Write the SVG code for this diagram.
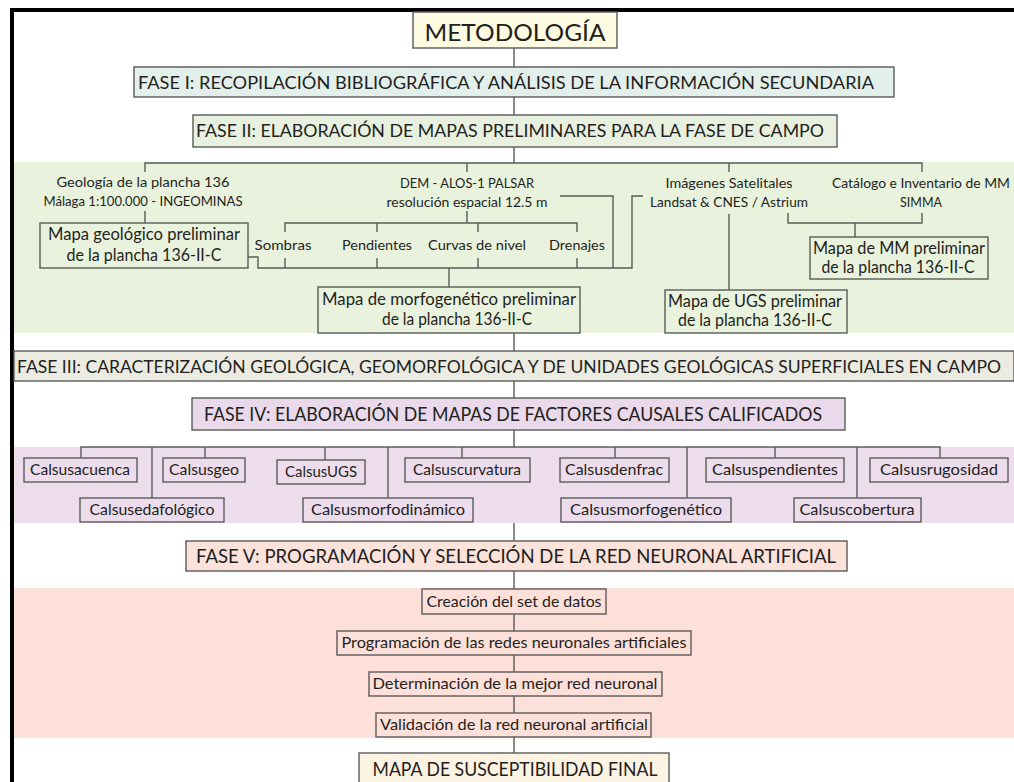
<svg xmlns="http://www.w3.org/2000/svg" width="1014" height="782" viewBox="0 0 1014 782">
<style>
text{font-family:Lato,"Open Sans","Liberation Sans",sans-serif;fill:#231f20;text-anchor:middle}
.ln{stroke:#5a5a5a;stroke-width:1.4;fill:none}
.bx{stroke:#5a5a5a;stroke-width:1.4}
.t13{font-size:13.5px}
.t15{font-size:15px}
.t16{font-size:16.5px}
.t18{font-size:17.5px}
.t19{font-size:19px}
.l{text-anchor:start}
</style>
<rect width="1014" height="782" fill="#ffffff"/>
<g id="bands">
<rect x="13" y="162" width="1001" height="171" fill="#e9f2dd"/>
<rect x="13" y="447" width="1001" height="76" fill="#ecdcec"/>
<rect x="13" y="588" width="1001" height="150" fill="#fde0da"/>
</g>
<g id="connectors" class="ln">
<path d="M514 48V67M514 97V115M514 147V163"/>
<path d="M145 172V163H922V172M467 163V172M729 163V172"/>
<path d="M145 211V223M467 211V223"/>
<path d="M285 232V223H577V232M377 223V232M478 223V232"/>
<path d="M285 258V268M377 258V268M478 258V268M577 258V268"/>
<path d="M248 257H258V268H632V196H643"/>
<path d="M560 196H613V268"/>
<path d="M449 268V287"/>
<path d="M729 214V290"/>
<path d="M788 213V223H922V213M855 223V237"/>
<path d="M514 333V351M514 381V398M514 430V447"/>
<path d="M81 458V447H940V458M205 447V458M325 447V460M462 447V458M615 447V458M775 447V458"/>
<path d="M152 447V498M388 447V498M687 447V498M857 447V498"/>
<path d="M514 523V541M514 571V589M514 614V631M514 655V672M514 696V713M514 737V753"/>
</g>
<g id="frame" stroke="#000" stroke-width="4" fill="none">
<path d="M12 782V10H1014"/>
</g>
<g id="metodologia">
<rect class="bx" x="413" y="12" width="204" height="36" fill="#fdfbe1"/>
<text x="515" y="41" font-size="24" textLength="181" lengthAdjust="spacingAndGlyphs">METODOLOGÍA</text>
</g>
<g id="fase1">
<rect class="bx" x="134" y="67" width="760" height="30" fill="#e3efeb"/>
<text class="t18 l" x="138" y="89" textLength="736" lengthAdjust="spacingAndGlyphs">FASE I: RECOPILACIÓN BIBLIOGRÁFICA Y ANÁLISIS DE LA INFORMACIÓN SECUNDARIA</text>
</g>
<g id="fase2">
<rect class="bx" x="193" y="115" width="644" height="32" fill="#e8f0df"/>
<text class="t18 l" x="196" y="137" textLength="628" lengthAdjust="spacingAndGlyphs">FASE II: ELABORACIÓN DE MAPAS PRELIMINARES PARA LA FASE DE CAMPO</text>
</g>
<g id="geologia-src">
<text class="t13" x="143" y="187" textLength="173" lengthAdjust="spacingAndGlyphs">Geología de la plancha 136</text>
<text class="t13" x="143" y="206" textLength="199" lengthAdjust="spacingAndGlyphs">Málaga 1:100.000 - INGEOMINAS</text>
</g>
<g id="dem-src">
<text class="t13" x="467" y="188" textLength="134" lengthAdjust="spacingAndGlyphs">DEM - ALOS-1 PALSAR</text>
<text class="t13" x="467" y="207" textLength="161" lengthAdjust="spacingAndGlyphs">resolución espacial 12.5 m</text>
</g>
<g id="imagenes-src">
<text class="t13" x="729" y="188" textLength="127" lengthAdjust="spacingAndGlyphs">Imágenes Satelitales</text>
<text class="t13" x="729" y="207" textLength="158" lengthAdjust="spacingAndGlyphs">Landsat &amp; CNES / Astrium</text>
</g>
<g id="catalogo-src">
<text class="t13" x="921" y="188" textLength="178" lengthAdjust="spacingAndGlyphs">Catálogo e Inventario de MM</text>
<text class="t13" x="921" y="207" textLength="42" lengthAdjust="spacingAndGlyphs">SIMMA</text>
</g>
<g id="sombras"><text class="t13" x="283" y="250" textLength="57" lengthAdjust="spacingAndGlyphs">Sombras</text></g>
<g id="pendientes"><text class="t13" x="377" y="250" textLength="70" lengthAdjust="spacingAndGlyphs">Pendientes</text></g>
<g id="curvas"><text class="t13" x="477" y="250" textLength="98" lengthAdjust="spacingAndGlyphs">Curvas de nivel</text></g>
<g id="drenajes"><text class="t13" x="577" y="250" textLength="56" lengthAdjust="spacingAndGlyphs">Drenajes</text></g>
<g id="mapa-geologico">
<rect class="bx" x="40" y="223" width="208" height="45" fill="#e9f2dd"/>
<text class="t16" x="144" y="240" textLength="192" lengthAdjust="spacingAndGlyphs">Mapa geológico preliminar</text>
<text class="t16" x="144" y="261" textLength="155" lengthAdjust="spacingAndGlyphs">de la plancha 136-II-C</text>
</g>
<g id="mapa-morfogenetico">
<rect class="bx" x="318" y="287" width="262" height="46" fill="#e9f2dd"/>
<text class="t16" x="449" y="305" textLength="254" lengthAdjust="spacingAndGlyphs">Mapa de morfogenético preliminar</text>
<text class="t16" x="457" y="325" textLength="150" lengthAdjust="spacingAndGlyphs">de la plancha 136-II-C</text>
</g>
<g id="mapa-ugs">
<rect class="bx" x="665" y="290" width="182" height="43" fill="#e9f2dd"/>
<text class="t16" x="755" y="307" textLength="174" lengthAdjust="spacingAndGlyphs">Mapa de UGS preliminar</text>
<text class="t16" x="755" y="326" textLength="154" lengthAdjust="spacingAndGlyphs">de la plancha 136-II-C</text>
</g>
<g id="mapa-mm">
<rect class="bx" x="810" y="237" width="178" height="42" fill="#e9f2dd"/>
<text class="t16" x="899" y="254" textLength="172" lengthAdjust="spacingAndGlyphs">Mapa de MM preliminar</text>
<text class="t16" x="898" y="273" textLength="153" lengthAdjust="spacingAndGlyphs">de la plancha 136-II-C</text>
</g>
<g id="fase3">
<rect class="bx" x="14" y="351" width="1000" height="30" fill="#ebebe2"/>
<text class="l" x="17" y="373" font-size="17.2" textLength="984" lengthAdjust="spacingAndGlyphs">FASE III: CARACTERIZACIÓN GEOLÓGICA, GEOMORFOLÓGICA Y DE UNIDADES GEOLÓGICAS SUPERFICIALES EN CAMPO</text>
</g>
<g id="fase4">
<rect class="bx" x="192" y="398" width="653" height="32" fill="#e9d9ea"/>
<text class="t19 l" x="204" y="421" textLength="618" lengthAdjust="spacingAndGlyphs">FASE IV: ELABORACIÓN DE MAPAS DE FACTORES CAUSALES CALIFICADOS</text>
</g>
<g id="calsusacuenca"><rect class="bx" x="24" y="458" width="113" height="24" fill="#ecdcec"/><text class="t15" x="80" y="475" textLength="100" lengthAdjust="spacingAndGlyphs">Calsusacuenca</text></g>
<g id="calsusgeo"><rect class="bx" x="163" y="458" width="82" height="24" fill="#ecdcec"/><text class="t15" x="204" y="475" textLength="70" lengthAdjust="spacingAndGlyphs">Calsusgeo</text></g>
<g id="calsusugs"><rect class="bx" x="277" y="460" width="88" height="24" fill="#ecdcec"/><text class="t15" x="321" y="477" textLength="72" lengthAdjust="spacingAndGlyphs">CalsusUGS</text></g>
<g id="calsuscurvatura"><rect class="bx" x="405" y="458" width="125" height="24" fill="#ecdcec"/><text class="t15" x="467" y="475" textLength="108" lengthAdjust="spacingAndGlyphs">Calsuscurvatura</text></g>
<g id="calsusdenfrac"><rect class="bx" x="560" y="458" width="109" height="24" fill="#ecdcec"/><text class="t15" x="614" y="475" textLength="98" lengthAdjust="spacingAndGlyphs">Calsusdenfrac</text></g>
<g id="calsuspendientes"><rect class="bx" x="706" y="458" width="138" height="24" fill="#ecdcec"/><text class="t15" x="775" y="475" textLength="126" lengthAdjust="spacingAndGlyphs">Calsuspendientes</text></g>
<g id="calsusrugosidad"><rect class="bx" x="870" y="458" width="138" height="24" fill="#ecdcec"/><text class="t15" x="939" y="475" textLength="118" lengthAdjust="spacingAndGlyphs">Calsusrugosidad</text></g>
<g id="calsusedafologico"><rect class="bx" x="80" y="498" width="144" height="24" fill="#ecdcec"/><text class="t15" x="152" y="515" textLength="125" lengthAdjust="spacingAndGlyphs">Calsusedafológico</text></g>
<g id="calsusmorfodinamico"><rect class="bx" x="303" y="498" width="170" height="24" fill="#ecdcec"/><text class="t15" x="388" y="515" textLength="154" lengthAdjust="spacingAndGlyphs">Calsusmorfodinámico</text></g>
<g id="calsusmorfogenetico"><rect class="bx" x="561" y="498" width="170" height="24" fill="#ecdcec"/><text class="t15" x="646" y="515" textLength="152" lengthAdjust="spacingAndGlyphs">Calsusmorfogenético</text></g>
<g id="calsuscobertura"><rect class="bx" x="794" y="498" width="127" height="24" fill="#ecdcec"/><text class="t15" x="857" y="515" textLength="115" lengthAdjust="spacingAndGlyphs">Calsuscobertura</text></g>
<g id="fase5">
<rect class="bx" x="186" y="541" width="661" height="30" fill="#fbe2da"/>
<text class="t19 l" x="196" y="563" textLength="640" lengthAdjust="spacingAndGlyphs">FASE V: PROGRAMACIÓN Y SELECCIÓN DE LA RED NEURONAL ARTIFICIAL</text>
</g>
<g id="creacion"><rect class="bx" x="422" y="589" width="184" height="25" fill="#fde0da"/><text class="t15" x="514" y="607" textLength="175" lengthAdjust="spacingAndGlyphs">Creación del set de datos</text></g>
<g id="programacion"><rect class="bx" x="337" y="631" width="354" height="24" fill="#fde0da"/><text class="t15" x="514" y="648" textLength="345" lengthAdjust="spacingAndGlyphs">Programación de las redes neuronales artificiales</text></g>
<g id="determinacion"><rect class="bx" x="369" y="672" width="293" height="24" fill="#fde0da"/><text class="t15" x="515" y="689" textLength="285" lengthAdjust="spacingAndGlyphs">Determinación de la mejor red neuronal</text></g>
<g id="validacion"><rect class="bx" x="376" y="713" width="275" height="24" fill="#fde0da"/><text class="t15" x="514" y="730" textLength="268" lengthAdjust="spacingAndGlyphs">Validación de la red neuronal artificial</text></g>
<g id="mapa-final">
<rect class="bx" x="359" y="753" width="310" height="40" fill="#fdf3e3"/>
<text x="515" y="776" font-size="20" textLength="285" lengthAdjust="spacingAndGlyphs">MAPA DE SUSCEPTIBILIDAD FINAL</text>
</g>
</svg>
